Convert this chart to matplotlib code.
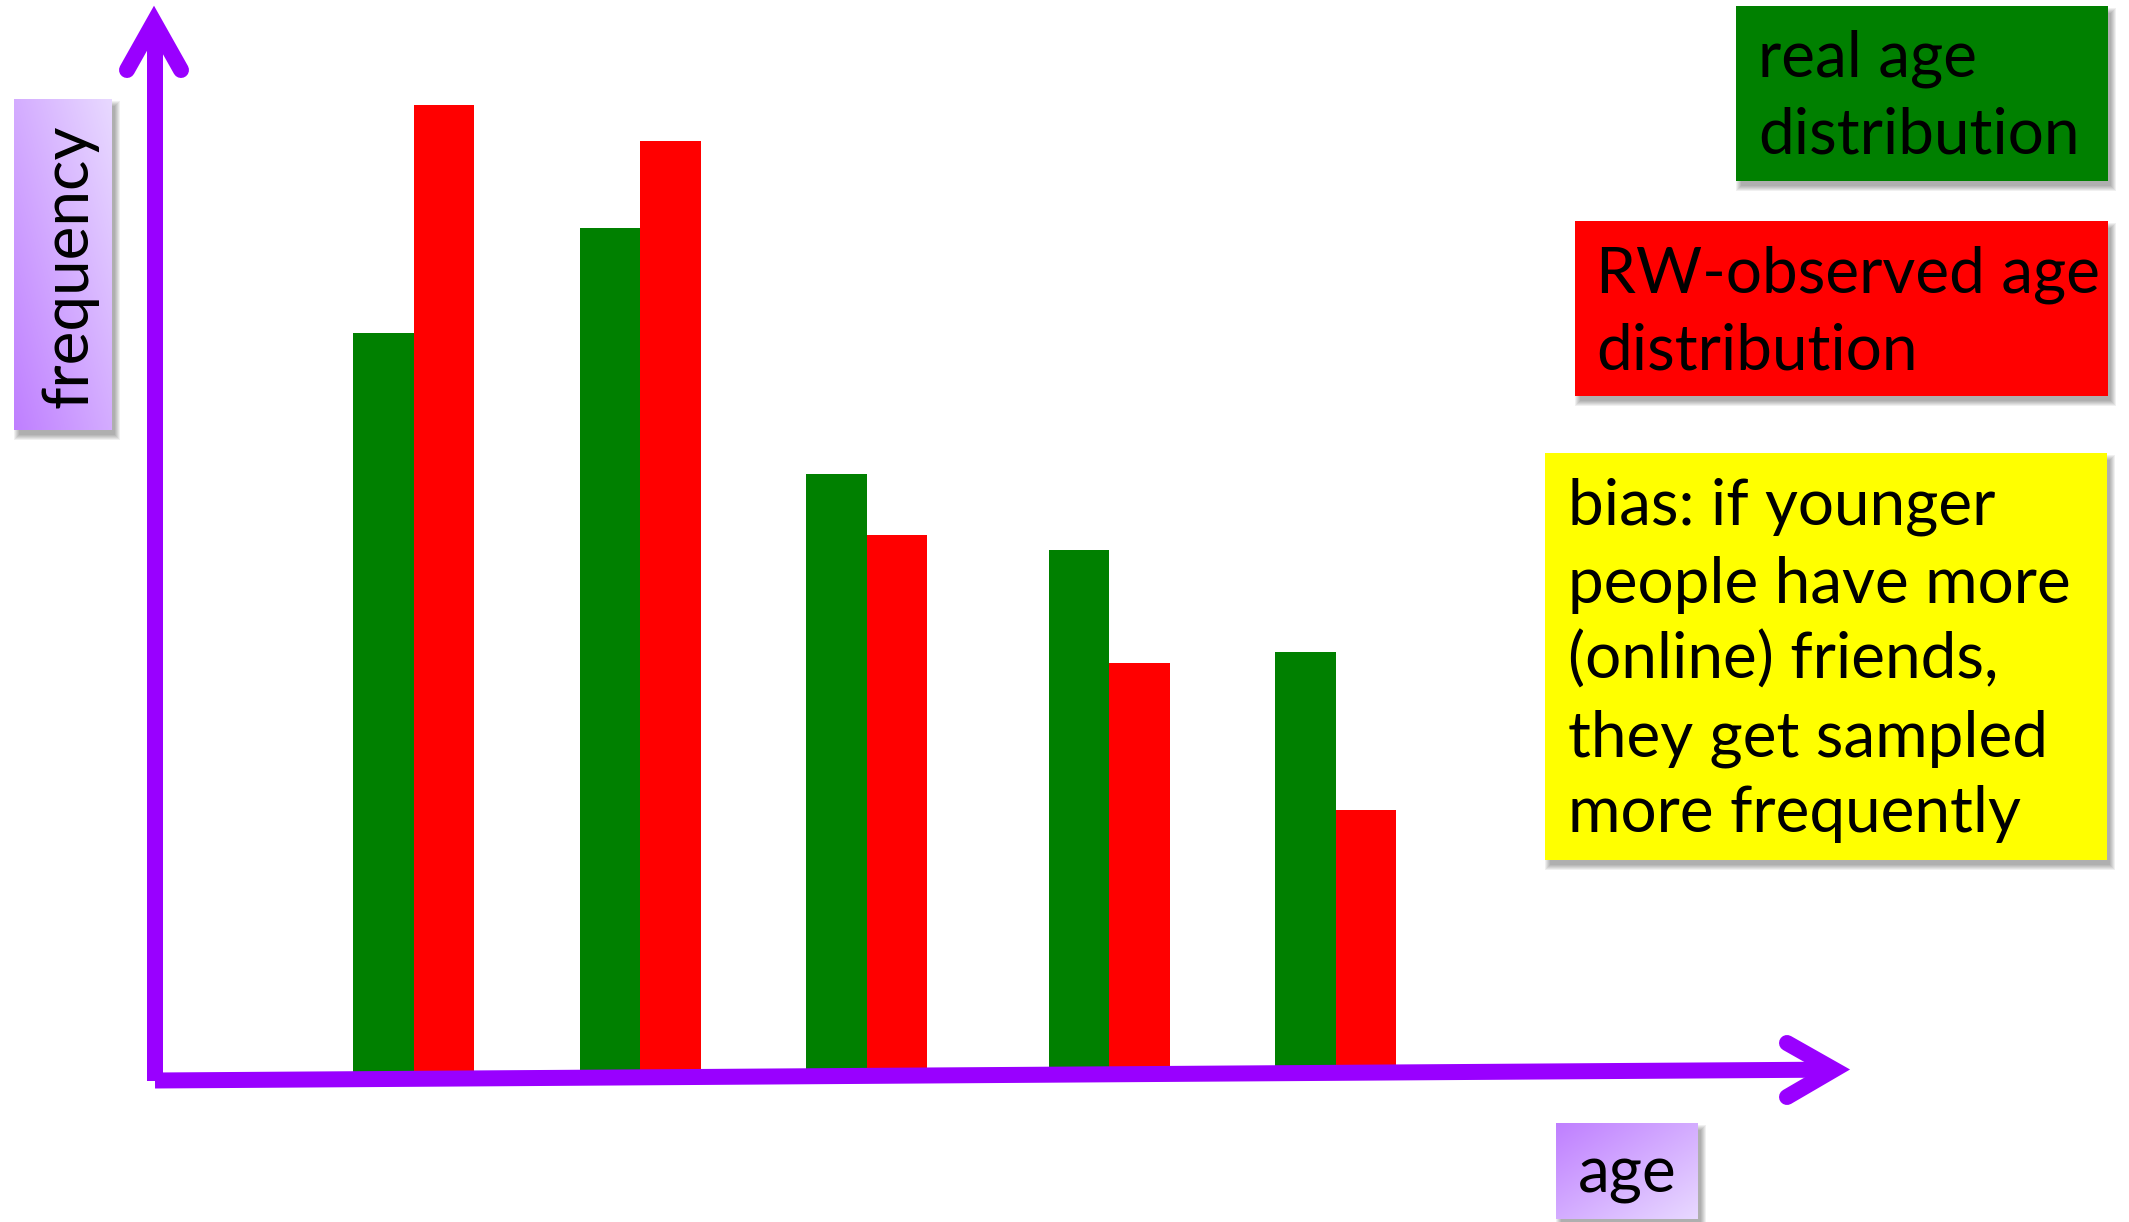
import numpy as np
import matplotlib
matplotlib.use("Agg")
import matplotlib.pyplot as plt
from matplotlib.patches import Rectangle

W, H = 2129, 1222

# bar heights per age group
real_age = [7.39, 8.44, 5.98, 5.22, 4.20]
rw_observed = [9.67, 9.31, 5.37, 4.09, 2.62]
group_x = [1.0, 2.0, 3.0, 4.07, 5.07]

legend_real = ["real age", "distribution"]
legend_rw = ["RW-observed age", "distribution"]
bias_note = [
	"bias: if younger",
	"people have more",
	"(online) friends,",
	"they get sampled",
	"more frequently",
]

PURPLE = "#9900ff"
FONT = "Lato"
FS = 46
BAR_W = 0.267


def shadow(ax, x0, y0, x1, y1, dx=4, dy=6, steps=6):
	for s in range(steps):
		g = steps - s
		ax.add_patch(Rectangle(
			(x0 + dx - g + 2, y0 + dy - g + 2),
			(x1 - x0) + 2 * g - 4,
			(y1 - y0) + 2 * g - 4,
			facecolor="black", edgecolor="none", alpha=0.06, zorder=1
		))


def box(ax, x0, y0, x1, y1, color):
	shadow(ax, x0, y0, x1, y1)
	ax.add_patch(Rectangle((x0, y0), x1 - x0, y1 - y0,
		facecolor=color, edgecolor="none", zorder=2))


def gradient_box(ax, x0, y0, x1, y1, dark_corner):
	shadow(ax, x0, y0, x1, y1)
	dark = np.array([0.75, 0.50, 1.0])
	light = np.array([0.91, 0.85, 1.0])
	u = np.linspace(0, 1, 60)
	gx, gy = np.meshgrid(u, u)
	if dark_corner == "top-left":
		t = (gx + gy) / 2
	else:
		t = (gx + (1 - gy)) / 2
	img = dark + (light - dark) * t[..., None]
	ax.imshow(img, extent=(x0, x1, y1, y0), origin="upper",
		aspect="auto", zorder=2, interpolation="bilinear")


def lines_of_text(ax, lines, x, baselines):
	for txt, yb in zip(lines, baselines):
		ax.text(x, yb, txt, fontsize=FS, family=FONT, color="black",
			ha="left", va="baseline", zorder=3)


fig = plt.figure(figsize=(W / 100, H / 100), dpi=100)
fig.patch.set_facecolor("white")

# bars in data units
ax = fig.add_axes([0, 0, 1, 1])
ax.set_xlim(-0.8265, 8.573)
ax.set_ylim(-1.5, 10.72)
ax.axis("off")
xs = np.array(group_x)
ax.bar(xs - BAR_W / 2, real_age, BAR_W, color="#008000", linewidth=0)
ax.bar(xs + BAR_W / 2, rw_observed, BAR_W, color="#ff0000", linewidth=0)

# overlay in pixel units for arrows and labels
deco = fig.add_axes([0, 0, 1, 1], zorder=2)
deco.set_xlim(0, W)
deco.set_ylim(H, 0)
deco.axis("off")
deco.patch.set_alpha(0)

lw = 16 * 72 / 100
deco.plot([155, 155], [1081, 22], color=PURPLE, lw=lw, solid_capstyle="butt", zorder=4)
deco.plot([127, 154, 181], [70, 22, 70], color=PURPLE, lw=lw,
	solid_capstyle="round", solid_joinstyle="miter", zorder=4)
deco.plot([155, 1834], [1080.5, 1069.6], color=PURPLE, lw=lw, solid_capstyle="butt", zorder=4)
deco.plot([1787, 1834, 1787], [1043, 1069.6, 1097], color=PURPLE, lw=lw,
	solid_capstyle="round", solid_joinstyle="miter", zorder=4)

# legend boxes
box(deco, 1736, 6, 2108, 181, "#008000")
lines_of_text(deco, legend_real, 1758, [77, 154])

box(deco, 1575, 221, 2108, 396, "#ff0000")
lines_of_text(deco, legend_rw, 1596, [293, 369])

box(deco, 1545, 453, 2107, 860, "#ffff00")
lines_of_text(deco, bias_note, 1568, [525, 603, 679, 756, 832])

# axis labels
gradient_box(deco, 14, 99, 112, 430, "bottom-left")
deco.text(87, 408, "frequency", fontsize=FS, family=FONT, rotation=90,
	rotation_mode="anchor", ha="left", va="baseline", zorder=3)

gradient_box(deco, 1556, 1123, 1698, 1219, "top-left")
deco.text(1578, 1192, "age", fontsize=FS, family=FONT,
	ha="left", va="baseline", zorder=3)

fig.savefig("out.png", dpi=100)
